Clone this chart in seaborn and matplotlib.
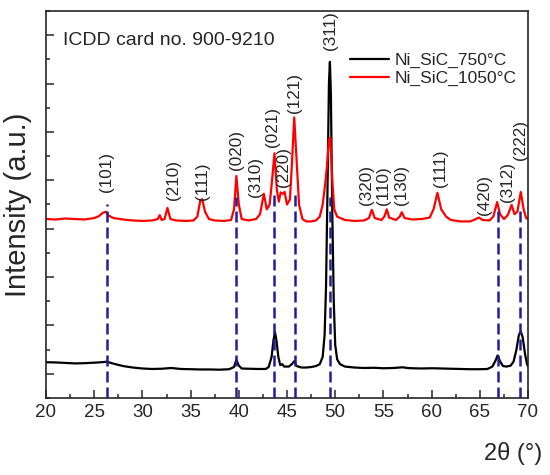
import numpy as np
import pandas as pd
import matplotlib
matplotlib.use("Agg")
import matplotlib.pyplot as plt
import seaborn as sns
from matplotlib.ticker import MultipleLocator, NullFormatter

# ---- data ----
two_theta_750 = [20.0, 21, 22, 23, 24, 25, 25.8, 26.3, 27, 28, 29, 30, 31, 32, 33, 34, 35, 36, 37,
                 38, 39, 39.5, 39.75, 40.0, 40.3, 41, 42, 42.8, 43.1, 43.4, 43.6, 43.75, 43.9,
                 44.1, 44.3, 44.5, 44.7, 45.2, 45.5, 45.75, 46.0, 46.5, 47, 47.5, 48, 48.4, 48.7,
                 48.9, 49.05, 49.2, 49.35, 49.45, 49.55, 49.7, 49.85, 50.0, 50.2, 50.5, 51, 52,
                 53, 54, 55, 56, 57, 57.5, 58, 59, 60, 61, 62, 63, 64, 65, 65.8, 66.3, 66.6,
                 66.85, 67.1, 67.4, 67.8, 68.2, 68.5, 68.8, 69.05, 69.25, 69.45, 69.7, 69.9, 70]
intensity_750 = [240, 235, 225, 215, 220, 230, 240, 250, 210, 160, 130, 110, 100, 105, 120, 100,
                 95, 90, 90, 85, 95, 140, 290, 170, 110, 105, 100, 100, 140, 350, 700, 860, 700,
                 350, 180, 200, 150, 150, 200, 260, 160, 130, 130, 140, 160, 200, 350, 800, 1800,
                 3800, 6000, 6450, 5800, 3300, 1500, 600, 300, 200, 150, 130, 120, 125, 115, 120,
                 135, 120, 115, 110, 115, 110, 105, 100, 95, 95, 100, 150, 260, 380, 260, 160,
                 150, 170, 250, 500, 800, 880, 750, 400, 200, 150]

two_theta_1050 = [20, 21, 22, 23, 24, 25, 25.5, 25.9, 26.2, 26.5, 27, 28, 29, 30, 31, 31.6, 31.8,
                  32.0, 32.3, 32.6, 32.9, 33.5, 34.5, 35.3, 35.7, 36.0, 36.2, 36.5, 36.9, 37.5,
                  38.5, 39.2, 39.5, 39.75, 40.0, 40.3, 41, 41.8, 42.2, 42.6, 42.9, 43.2, 43.45,
                  43.7, 43.95, 44.15, 44.35, 44.55, 44.75, 45.0, 45.3, 45.5, 45.75, 46.0, 46.25,
                  46.6, 47.0, 47.5, 48.0, 48.4, 48.7, 48.95, 49.15, 49.35, 49.5, 49.7, 49.9, 50.2,
                  51, 52, 53, 53.5, 53.8, 54.1, 54.8, 55.1, 55.35, 55.6, 56.3, 56.7, 56.9, 57.2,
                  58, 59, 59.8, 60.2, 60.6, 61.0, 61.5, 62, 63, 64, 64.6, 64.9, 65.3, 66, 66.4,
                  66.8, 67.1, 67.5, 67.9, 68.3, 68.6, 68.9, 69.25, 69.55, 69.8, 70]
intensity_1050 = [3200, 3190, 3210, 3200, 3190, 3220, 3260, 3330, 3350, 3270, 3220, 3190, 3170,
                  3160, 3170, 3200, 3280, 3180, 3200, 3430, 3200, 3170, 3160, 3170, 3250, 3580,
                  3610, 3350, 3200, 3170, 3160, 3180, 3400, 4090, 3500, 3200, 3170, 3200, 3300,
                  3720, 3400, 3500, 4000, 4560, 3800, 3560, 3750, 3720, 3760, 3500, 3600, 4300,
                  5300, 4400, 3500, 3200, 3150, 3150, 3170, 3250, 3500, 3900, 4300, 4850, 4880,
                  4000, 3400, 3250, 3180, 3160, 3170, 3220, 3390, 3220, 3180, 3250, 3400, 3230,
                  3180, 3250, 3340, 3220, 3190, 3200, 3230, 3400, 3740, 3400, 3250, 3180, 3150,
                  3150, 3200, 3230, 3180, 3170, 3250, 3550, 3300, 3200, 3280, 3490, 3300, 3350,
                  3760, 3400, 3220, 3200]

# reference lines (ICDD card 900-9210)
ref_positions = [26.35, 39.75, 43.7, 45.8, 49.5, 66.85, 69.2]
ref_tops = [3500, 3650, 3700, 3700, 3650, 3450, 3450]

# Miller index labels: (x, y of label start)
hkl_labels = ["(101)", "(210)", "(111)", "(020)", "(310)", "(021)", "(220)", "(121)", "(311)",
              "(320)", "(110)", "(130)", "(111)", "(420)", "(312)", "(222)"]
hkl_x = [26.3, 33.2, 36.2, 39.8, 41.7, 43.5, 44.6, 45.8, 49.5,
         53.2, 55.0, 56.9, 60.9, 65.5, 67.9, 69.2]
hkl_y = [3760, 3590, 3590, 4210, 3650, 4690, 3860, 5390, 6690,
         3490, 3490, 3490, 3860, 3280, 3550, 4420]

sns.set_style("ticks")
plt.rcParams['font.family'] = ['Liberation Sans', 'DejaVu Sans']

df750 = pd.DataFrame({'2theta': two_theta_750, 'I': intensity_750})
df1050 = pd.DataFrame({'2theta': two_theta_1050, 'I': intensity_1050})

fig = plt.figure(figsize=(5.5, 4.75), dpi=100)
ax = fig.add_axes([46 / 550, 77 / 475, 482 / 550, 387 / 475])

sns.lineplot(data=df750, x='2theta', y='I', color='black', lw=1.6, ax=ax,
             estimator=None, sort=False, label='Ni_SiC_750°C')
sns.lineplot(data=df1050, x='2theta', y='I', color='#ff0000', lw=1.6, ax=ax,
             estimator=None, sort=False, label='Ni_SiC_1050°C')

for xp, top in zip(ref_positions, ref_tops):
    ax.plot([xp, xp], [-500, top], color='#1f1f9c', lw=1.8, dashes=(4.4, 2), zorder=5)

for lab, xp, yp in zip(hkl_labels, hkl_x, hkl_y):
    ax.text(xp, yp, lab, rotation=90, ha='center', va='bottom', fontsize=12.3)

ax.text(0.035, 0.925, 'ICDD card no. 900-9210', transform=ax.transAxes,
        fontsize=14, va='center', ha='left')

ax.set_xlim(20, 70)
ax.set_ylim(-500, 7500)
ax.xaxis.set_major_locator(MultipleLocator(5))
ax.xaxis.set_minor_locator(MultipleLocator(2.5))
ax.yaxis.set_major_locator(MultipleLocator(1000))
ax.yaxis.set_minor_locator(MultipleLocator(500))
ax.yaxis.set_major_formatter(NullFormatter())
ax.tick_params(axis='x', which='both', direction='in', top=False, labelsize=13.5, pad=4.6)
ax.tick_params(axis='y', which='both', direction='in', right=False)
ax.tick_params(which='major', length=5.5, width=1.1)
ax.tick_params(which='minor', length=3.2, width=1.1)
for sp in ax.spines.values():
    sp.set_linewidth(1.2)
    sp.set_visible(True)

ax.set_ylabel('Intensity (a.u.)', fontsize=21)
ax.yaxis.set_label_coords(-0.03, 0.5)
ax.set_xlabel('2θ (°)', fontsize=17, ha='right')
ax.xaxis.set_label_coords(1.029, -0.114)

ax.legend(loc='upper left', bbox_to_anchor=(0.631, 0.891), frameon=False, fontsize=12.5,
          borderpad=0, borderaxespad=0, handlelength=2.25, handletextpad=0.3,
          labelspacing=0.15)

fig.savefig('out.png', dpi=100)
